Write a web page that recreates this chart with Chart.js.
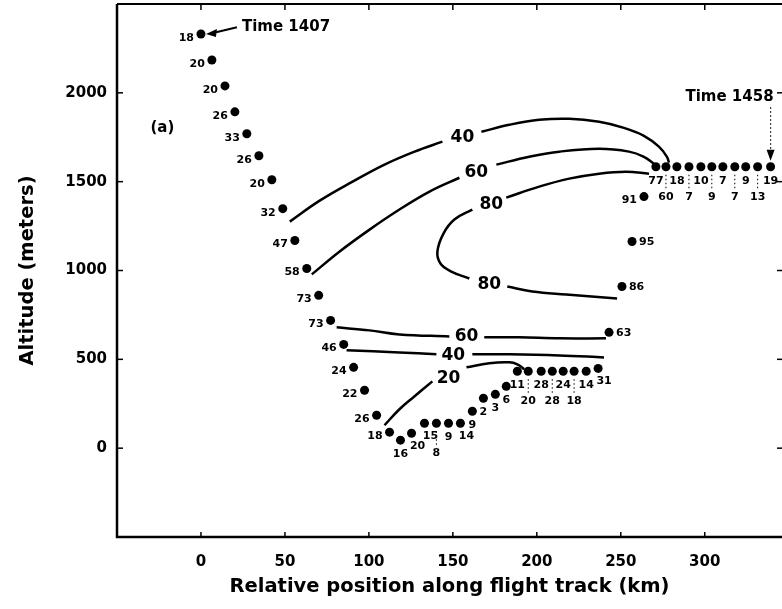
<!DOCTYPE html>
<html><head><meta charset="utf-8">
<script src="https://cdn.jsdelivr.net/npm/chart.js@4.4.1/dist/chart.umd.min.js"></script>
<style>html,body{margin:0;padding:0;background:#fff;overflow:hidden}</style>
</head><body>
<canvas id="c" width="782" height="609"></canvas>
<script>
// ---- data ----
const positionKm = [0, 6.5, 14.3, 20.2, 27.3, 34.5, 42.2, 48.7, 55.9, 63, 70.1, 77.2, 85, 90.9, 97.4, 104.6, 112.3,
  118.8, 125.4, 133.1, 140.2, 147.4, 154.5, 161.6, 168.2, 175.3, 181.8,
  188.4, 194.9, 202.6, 209.2, 215.7, 222.2, 229.4, 236.5,
  243, 250.7, 256.7, 263.8,
  270.9, 276.9, 283.4, 290.6, 297.7, 304.2, 310.8, 317.9, 324.4, 331.5, 339.2];
const altitudeM = [2331, 2185, 2039, 1893, 1770, 1646, 1511, 1348, 1169, 1011, 860, 719, 584, 455, 326, 185, 90,
  45, 84, 140, 140, 140, 140, 208, 281, 303, 348,
  433, 433, 433, 433, 433, 433, 433, 449,
  652, 910, 1163, 1416,
  1584, 1584, 1584, 1584, 1584, 1584, 1584, 1584, 1584, 1584, 1584];
const pointLabels = ['18','20','20','26','33','26','20','32','47','58','73','73','46','24','22','26','18',
  '16','20','15','8','9','14','9','2','3','6',
  '11','20','28','28','24','18','14','31',
  '63','86','95','91',
  '77','60','18','7','10','9','7','7','9','13','19'];
// where each label sits relative to its dot: L left, R right, B below, B2 second row below, BR below right
const labelSide = ['L','L','L','L','L','L','L','L','L','L','L','L','L','L','L','L','L',
  'B','BR','BR','B2','B','BR','B','B','B','B',
  'B','B2','B','B2','B','B2','B','BR',
  'R','R','R','L',
  'B','B2','B','B2','B','B2','B','B2','B','B2','B'];

const xTickValues = [0, 50, 100, 150, 200, 250, 300];
const yTickValues = [0, 500, 1000, 1500, 2000];

// contour lines, [km, m] pairs, broken where a label sits
const contour40UpperA = [[52.9,1275],[70.7,1393],[90.3,1500],[109.3,1596],[127.2,1669],[143.8,1725]];
const contour40UpperB = [[167.0,1781],[183.6,1820],[201.4,1848],[219.3,1854],[237.1,1837],[251.9,1803],[263.8,1758],[272.7,1697],[277.5,1640],[278.7,1607]];
const contour60UpperA = [[66,978],[82.6,1107],[100.4,1230],[118.2,1343],[136.1,1444],[153.9,1522]];
const contour60UpperB = [[175.9,1596],[195.5,1640],[213.3,1669],[237.1,1685],[254.9,1669],[263.8,1640],[269.7,1601]];
const contour80Upper = [[181.8,1410],[201.4,1472],[219.3,1517],[237.1,1545],[253.1,1556],[266.8,1545]];
const contour80Loop = [[161.6,1343],[150.9,1287],[144.4,1208],[140.8,1107],[142.6,1039],[149.1,994],[159.8,955]];
const contour80Lower = [[182.4,910],[197.3,882],[217.5,865],[247.8,843]];
const contour60LowerA = [[80.8,680],[100.4,663],[118.2,640],[147.9,629]];
const contour60LowerB = [[168.7,624],[189.5,624],[213.3,618],[241.2,618]];
const contour40LowerA = [[86.7,551],[118.2,539],[140.2,528]];
const contour40LowerB = [[161.6,528],[183.6,528],[213.3,522],[240,511]];
const contour20A = [[109.3,129],[118.2,219],[127.2,292],[137.8,376]];
const contour20B = [[158.1,455],[171.7,478],[183.6,483],[188.4,472],[192.5,444]];

const contourLabelText = ['40','60','80','80','60','40','20'];
const contourLabelKm = [155.7, 164, 172.9, 171.7, 158.1, 150.3, 147.4];
const contourLabelM = [1753, 1556, 1376, 927, 635, 528, 399];

// ---- chart ----
const FONT = "'DejaVu Sans', sans-serif";
const contours = [contour40UpperA, contour40UpperB, contour60UpperA, contour60UpperB, contour80Upper, contour80Loop,
  contour80Lower, contour60LowerA, contour60LowerB, contour40LowerA, contour40LowerB, contour20A, contour20B];
const pts = positionKm.map((x, i) => ({x: x, y: altitudeM[i]}));

const datasets = contours.map(c => ({
  data: c.map(p => ({x: p[0], y: p[1]})),
  showLine: true, pointRadius: 0, borderColor: '#000', borderWidth: 2.5, tension: 0.4, fill: false
}));
datasets.push({data: pts, showLine: false, pointRadius: 4.5, pointHoverRadius: 4.5,
  backgroundColor: '#000', borderColor: '#000', borderWidth: 0});

const decor = {
  id: 'decor',
  afterDraw(chart) {
    const ctx = chart.ctx, a = chart.chartArea, xs = chart.scales.x, ys = chart.scales.y;
    ctx.save();
    ctx.strokeStyle = '#000'; ctx.fillStyle = '#000'; ctx.lineCap = 'butt';
    // frame (right side lies at the canvas edge)
    ctx.lineWidth = 2.5;
    ctx.beginPath(); ctx.moveTo(a.left, a.top); ctx.lineTo(a.left, a.bottom); ctx.lineTo(a.right + 2, a.bottom); ctx.stroke();
    ctx.lineWidth = 2;
    ctx.beginPath(); ctx.moveTo(a.left, a.top); ctx.lineTo(a.right + 2, a.top); ctx.stroke();
    // inward ticks
    ctx.lineWidth = 1.5;
    xTickValues.forEach(v => {
      const px = xs.getPixelForValue(v);
      ctx.beginPath(); ctx.moveTo(px, a.bottom); ctx.lineTo(px, a.bottom - 5); ctx.stroke();
      ctx.beginPath(); ctx.moveTo(px, a.top); ctx.lineTo(px, a.top + 6); ctx.stroke();
    });
    yTickValues.forEach(v => {
      const py = ys.getPixelForValue(v);
      ctx.beginPath(); ctx.moveTo(a.left, py); ctx.lineTo(a.left + 6, py); ctx.stroke();
      ctx.beginPath(); ctx.moveTo(a.right, py); ctx.lineTo(a.right - 5, py); ctx.stroke();
    });
    // point labels
    ctx.font = "bold 11px " + FONT;
    ctx.textBaseline = 'middle';
    pts.forEach((p, i) => {
      const px = xs.getPixelForValue(p.x), py = ys.getPixelForValue(p.y);
      const s = labelSide[i], t = pointLabels[i];
      if (s === 'L') { ctx.textAlign = 'right'; ctx.fillText(t, px - 7, py + 4); }
      else if (s === 'R') { ctx.textAlign = 'left'; ctx.fillText(t, px + 7, py + 1); }
      else if (s === 'B') { ctx.textAlign = 'center'; ctx.fillText(t, px, py + 14); }
      else if (s === 'BR') { ctx.textAlign = 'center'; ctx.fillText(t, px + 6, py + 13); }
      else if (s === 'B2') {
        ctx.textAlign = 'center'; ctx.fillText(t, px, py + 30);
        ctx.save(); ctx.lineWidth = 1; ctx.setLineDash([1.5, 2.5]);
        ctx.beginPath(); ctx.moveTo(px, py + 8); ctx.lineTo(px, py + 22); ctx.stroke(); ctx.restore();
      }
    });
    // contour labels
    ctx.font = "bold 17px " + FONT; ctx.textAlign = 'center'; ctx.textBaseline = 'middle';
    contourLabelText.forEach((t, i) => {
      ctx.fillText(t, xs.getPixelForValue(contourLabelKm[i]), ys.getPixelForValue(contourLabelM[i]) + 1);
    });
    // panel letter
    ctx.font = "bold 15px " + FONT;
    ctx.fillText('(a)', xs.getPixelForValue(-23), ys.getPixelForValue(1801));
    // start time annotation
    const p0x = xs.getPixelForValue(positionKm[0]), p0y = ys.getPixelForValue(altitudeM[0]);
    ctx.textAlign = 'left';
    const tx = xs.getPixelForValue(24.4), ty = ys.getPixelForValue(2369);
    ctx.fillText('Time 1407', tx, ty);
    ctx.lineWidth = 2;
    ctx.beginPath(); ctx.moveTo(p0x + 12, p0y - 1); ctx.lineTo(tx - 5, ty); ctx.stroke();
    ctx.beginPath(); ctx.moveTo(p0x + 5, p0y); ctx.lineTo(p0x + 16, p0y - 5); ctx.lineTo(p0x + 15, p0y + 3); ctx.closePath(); ctx.fill();
    // end time annotation
    const n = positionKm.length - 1;
    const pnx = xs.getPixelForValue(positionKm[n]), pny = ys.getPixelForValue(altitudeM[n]);
    ctx.textAlign = 'right';
    const ey = ys.getPixelForValue(1975);
    ctx.fillText('Time 1458', pnx + 3, ey);
    ctx.save(); ctx.lineWidth = 1.2; ctx.setLineDash([1.5, 2.5]);
    ctx.beginPath(); ctx.moveTo(pnx, ey + 10); ctx.lineTo(pnx, pny - 14); ctx.stroke(); ctx.restore();
    ctx.beginPath(); ctx.moveTo(pnx - 4, pny - 17); ctx.lineTo(pnx + 4, pny - 17); ctx.lineTo(pnx, pny - 6); ctx.closePath(); ctx.fill();
    ctx.restore();
  }
};

new Chart(document.getElementById('c'), {
  type: 'scatter',
  data: {datasets: datasets},
  options: {
    responsive: false, animation: false, devicePixelRatio: 1,
    layout: {autoPadding: false, padding: {top: 4, right: 0, bottom: 0, left: 0}},
    plugins: {legend: {display: false}, tooltip: {enabled: false}},
    scales: {
      x: {
        type: 'linear', min: -50, max: 346,
        afterBuildTicks: s => { s.ticks = xTickValues.map(v => ({value: v})); },
        afterFit: s => { s.height = 72; s.paddingLeft = 0; s.paddingRight = 0; },
        grid: {display: false, drawTicks: false}, border: {display: false},
        ticks: {font: {family: FONT, size: 15, weight: 'bold'}, color: '#000', padding: 16, maxRotation: 0, autoSkip: false,
          callback: v => String(v)},
        title: {display: true, text: 'Relative position along flight track (km)', color: '#000',
          font: {family: FONT, size: 19.5, weight: 'bold'}, padding: {top: 0, bottom: 10}}
      },
      y: {
        type: 'linear', min: -500, max: 2500,
        afterBuildTicks: s => { s.ticks = yTickValues.map(v => ({value: v})); },
        afterFit: s => { s.width = 117; s.paddingTop = 0; s.paddingBottom = 0; },
        grid: {display: false, drawTicks: false}, border: {display: false},
        ticks: {font: {family: FONT, size: 15, weight: 'bold'}, color: '#000', padding: 10, autoSkip: false,
          callback: v => String(v)},
        title: {display: true, text: 'Altitude (meters)', color: '#000',
          font: {family: FONT, size: 19.5, weight: 'bold'}, padding: {top: 16, bottom: 0}}
      }
    }
  },
  plugins: [decor]
});
</script>
</body></html>
